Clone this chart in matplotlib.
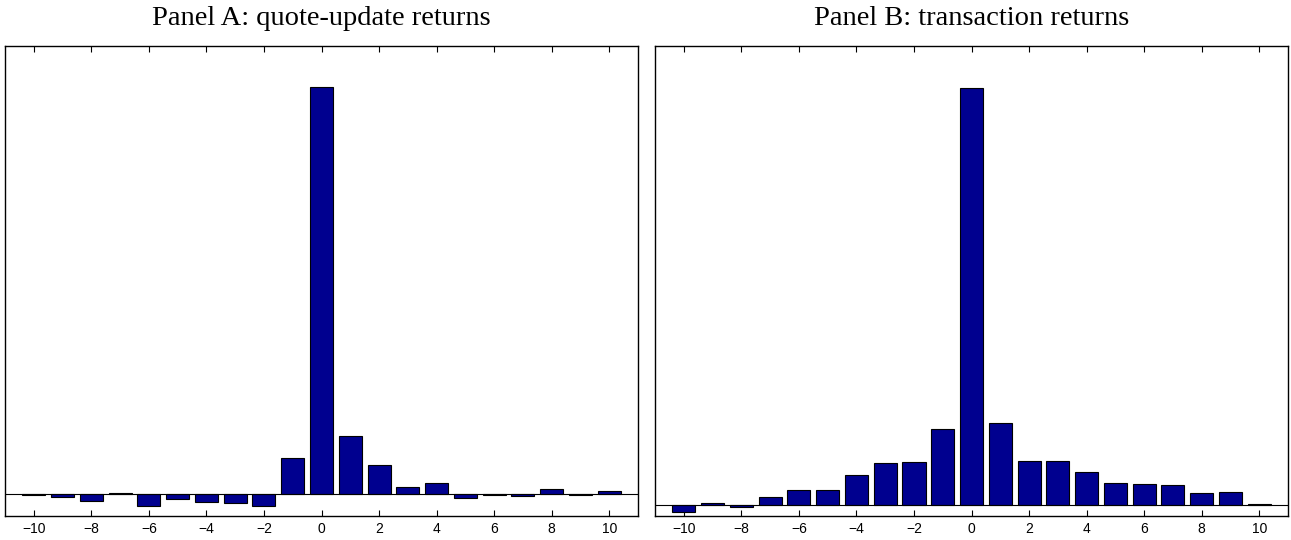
import numpy as np
import matplotlib
matplotlib.use("Agg")
import matplotlib.pyplot as plt

lags = list(range(-10, 11))

# panel A: quote-update returns (arbitrary units)
quote_vals = [-1, -3, -6.7, 1, -11.7, -4.7, -8.3, -8.7, -11.7, 35.7,
              407, 58, 28.7, 6.7, 11, -3.7, -0.5, -1.7, 5, -0.7, 3]
# panel B: transaction returns
trans_vals = [-6.3, 2.7, -1.3, 8.7, 15.3, 14.9, 30.3, 42, 43.3, 76,
              417.3, 82, 44.3, 44, 33.7, 22.3, 21, 20.3, 12.3, 13.7, 1]

titles = ["Panel A: quote-update returns", "Panel B: transaction returns"]
xticks = [-10, -8, -6, -4, -2, 0, 2, 4, 6, 8, 10]

fig = plt.figure(figsize=(12.91, 5.40), dpi=100)
axA = fig.add_axes([0.0039, 0.0444, 0.4903, 0.8704])
axB = fig.add_axes([0.5074, 0.0444, 0.4903, 0.8704])

panels = [(axA, quote_vals, (-22, 448)), (axB, trans_vals, (-10.7, 459.3))]
for (ax, vals, ylim), title in zip(panels, titles):
    ax.bar(lags, vals, width=0.8, color="#00008F", edgecolor="black",
           linewidth=0.8, zorder=2)
    ax.axhline(0, color="black", linewidth=0.8, zorder=3)
    ax.set_xlim(-11, 11)
    ax.set_ylim(*ylim)
    ax.set_xticks(xticks)
    ax.set_xticklabels(["\u2212%d" % -t if t < 0 else str(t) for t in xticks],
                       family="Liberation Sans", fontsize=10)
    ax.set_yticks([])
    ax.tick_params(axis="x", direction="in", top=True, bottom=True,
                   length=4, width=0.8, pad=4)
    for s in ax.spines.values():
        s.set_linewidth(1.0)
        s.set_color("black")
    ax.set_title(title, family="Liberation Serif", fontsize=20.5, pad=15)

fig.savefig("out.png", dpi=100)
